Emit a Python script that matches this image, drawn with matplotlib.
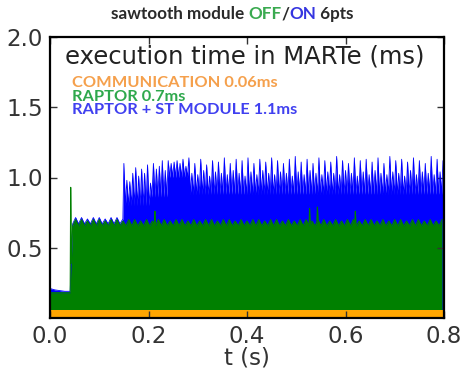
import numpy as np
import matplotlib.pyplot as plt

# orange band: communication time
comm_level = 0.06

# start-up part, before the control loop runs
pre_t = [0.0, 0.01, 0.02, 0.03, 0.041]
pre_green = [0.18, 0.18, 0.18, 0.18, 0.18]
pre_blue = [0.21, 0.20, 0.195, 0.19, 0.19]

# RAPTOR alone (green): small ripple, one bump per period
ripple_start = 0.046
ripple_period = 0.012
green_trough = 0.655
green_peaks = [0.70, 0.70, 0.69, 0.70, 0.70, 0.69, 0.70, 0.70, 0.69, 0.70,
               0.70, 0.69, 0.70, 0.69, 0.70, 0.70, 0.69, 0.70, 0.70, 0.69,
               0.70, 0.69, 0.70, 0.70, 0.69, 0.70, 0.70, 0.69, 0.70, 0.69,
               0.70, 0.70, 0.69, 0.70, 0.70, 0.69, 0.70, 0.69, 0.70, 0.70,
               0.69, 0.70, 0.70, 0.69, 0.70, 0.69, 0.70, 0.70, 0.69, 0.70,
               0.70, 0.69, 0.70, 0.69, 0.70, 0.70, 0.69, 0.70, 0.70, 0.69,
               0.70, 0.69, 0.70]
green_spike_t = [0.042, 0.213, 0.527, 0.543, 0.620]
green_spike_v = [0.93, 0.76, 0.78, 0.79, 0.76]

# RAPTOR + ST module (blue): spikes once the module is switched on
blue_start = 0.150
blue_period = 0.006
blue_peaks = [1.10, 0.98, 0.97, 1.03, 1.07, 1.01, 1.06, 1.03, 1.09,
              0.96, 1.10, 1.06, 1.08, 1.12, 1.05,
              1.12, 1.10, 1.11, 1.12, 1.10, 1.13, 1.08,
              1.14, 1.03, 1.10, 1.02, 1.13, 1.05, 1.09, 1.01, 1.12, 1.04,
              1.11, 1.03, 1.14, 1.02, 1.10, 1.05, 1.13, 1.03, 1.12, 1.01,
              1.14, 1.04, 1.10, 1.02, 1.13, 1.05, 1.11, 1.03, 1.14, 1.02,
              1.12, 1.04, 1.10, 1.03, 1.13, 1.01, 1.15, 1.04, 1.11, 1.02,
              1.13, 1.05, 1.10, 1.03, 1.14, 1.02, 1.12, 1.04, 1.11, 1.03,
              1.15, 1.02, 1.12, 1.05, 1.10, 1.03, 1.14, 1.01, 1.12, 1.04,
              1.13, 1.02, 1.11, 1.05, 1.14, 1.03, 1.10, 1.02, 1.15, 1.04,
              1.12, 1.03, 1.13, 1.01, 1.11, 1.05, 1.14, 1.02, 1.12, 1.04,
              1.10, 1.03, 1.15, 1.02, 1.13, 1.04, 1.12]
valley_edges = [0.150, 0.204, 0.240, 0.280]
valley_levels = [0.80, 0.86, 1.00, 0.88]

legend_lines = ["COMMUNICATION 0.06ms", "RAPTOR 0.7ms", "RAPTOR + ST MODULE 1.1ms"]
legend_colors = ["#f5a04c", "#2ea84c", "#4040f0"]

# --- build the green series
gt, gv = list(pre_t), list(pre_green)
for i, p in enumerate(green_peaks):
    t = ripple_start + i * ripple_period
    gt += [t, t + ripple_period / 2]
    gv += [green_trough, p]
ripple_t, ripple_v = np.array(gt), np.array(gv)
hw = 0.0012
for ts, vs in zip(green_spike_t, green_spike_v):
    lo = np.interp([ts - hw, ts + hw], ripple_t, ripple_v)
    gt += [ts - hw, ts, ts + hw]
    gv += [lo[0], vs, lo[1]]
order = np.argsort(gt, kind="stable")
gt, gv = np.array(gt)[order], np.array(gv)[order]

# --- build the blue series
mask = (ripple_t < blue_start) & (ripple_t > pre_t[-1])
bt = list(pre_t) + list(ripple_t[mask])
bv = list(pre_blue) + list(ripple_v[mask] + 0.015)
for i, p in enumerate(blue_peaks):
    t = blue_start + i * blue_period
    k = np.searchsorted(valley_edges, t, side="right") - 1
    bt += [t, t + blue_period / 2]
    bv += [p, valley_levels[k]]

fig = plt.figure(figsize=(4.65, 3.7), dpi=100)
ax = fig.add_axes([50 / 465, 52 / 370, 394 / 465, 281 / 370])

ax.fill_between(bt, bv, color="blue", lw=0)
ax.plot(bt, bv, color="blue", lw=0.6)
ax.fill_between(gt, gv, color="green", lw=0)
ax.plot(gt, gv, color="green", lw=0.8)
ax.fill_between([0, 0.8], [comm_level, comm_level], color="orange", lw=0)

ax.set_xlim(0, 0.8)
ax.set_ylim(0, 2.0)
ax.set_xticks([0.0, 0.2, 0.4, 0.6, 0.8])
ax.set_yticks([0.5, 1.0, 1.5, 2.0])
ax.tick_params(direction="in", top=True, right=True, length=5, width=1,
               labelsize=16.5, pad=5, colors="#333333")
for s in ax.spines.values():
    s.set_linewidth(1.6)
ax.set_xlabel("t (s)", fontsize=16.5, labelpad=-1, color="#333333")

ax.text(0.038, 0.975, "execution time in MARTe (ms)", transform=ax.transAxes,
        fontsize=17.5, va="top", ha="left", color="#222222")
for j, (s, c) in enumerate(zip(legend_lines, legend_colors)):
    ax.text(0.056, 0.835 - j * 0.048, s, transform=ax.transAxes, color=c,
            fontsize=11.8, fontweight="bold", family="Lato", va="center")

# title with coloured words
pieces = [("sawtooth module ", "#2a2a2a"), ("OFF", "#3aaa50"), ("/", "#2a2a2a"),
          ("ON", "#3535e0"), (" 6pts", "#2a2a2a")]
texts = [fig.text(0, 1 - 14 / 370, s, color=c, fontsize=12.3,
                  fontweight="bold", family="Lato", va="center") for s, c in pieces]
fig.canvas.draw()
r = fig.canvas.get_renderer()
widths = [t.get_window_extent(r).width for t in texts]
x = 232 - sum(widths) / 2
for t, w in zip(texts, widths):
    t.set_x(x / 465)
    x += w

fig.savefig("out.png", dpi=100)
